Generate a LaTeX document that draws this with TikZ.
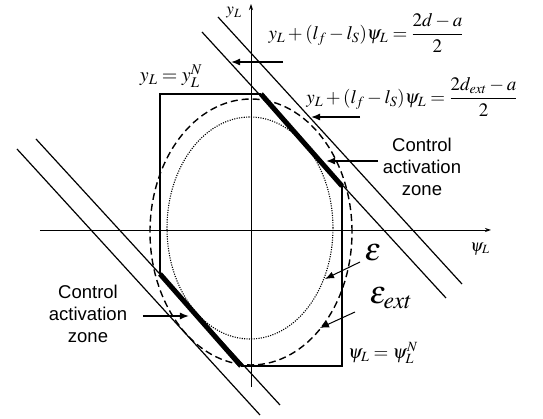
\documentclass[tikz,border=0pt]{standalone}
\usepackage{amsmath}
\usepackage{mathptmx}
\usepackage{fontspec}
\setmainfont{Liberation Serif}
\newfontfamily\arialfont{Liberation Sans}
\usetikzlibrary{arrows.meta}

\begin{document}
\begin{tikzpicture}[x=1pt, y=1pt,
    axis/.style={line width=0.8pt, -{Stealth[length=6pt, width=4pt]}},
    bound/.style={line width=1.4pt},
    border/.style={line width=1.2pt},
    pointer/.style={line width=1.4pt, -{Latex[length=9pt, width=7pt]}},
    zone/.style={font=\arialfont\fontsize{18.5}{22}\selectfont, align=center},
    eqn/.style={font=\fontsize{19}{22}\selectfont, inner sep=0pt},
    setlab/.style={font=\fontsize{32}{32}\selectfont, inner sep=0pt, text height=12pt, text depth=4pt}]
    \useasboundingbox (-251,-189) rectangle (292,230);

    % Axes
    \coordinate (xl) at (-211,0);
    \coordinate (xr) at (240,0);
    \coordinate (yb) at (0,-157);
    \coordinate (yt) at (0,226);
    \draw[axis] (xl) -- (xr);
    \draw[axis] (yb) -- (yt);
    \node[eqn, font=\fontsize{17}{20}\selectfont] (psilab) at (229,-19) {$\psi_L$};
    \node[eqn, font=\fontsize{17}{20}\selectfont] (ylab) at (-17,217) {$y_L$};

    % Ellipses E and E_ext
    \draw[line width=1.1pt, dash pattern=on 1.1pt off 1.3pt] (-1,2) ellipse [x radius=83pt, y radius=111pt];
    \draw[line width=1.4pt, dash pattern=on 7pt off 4pt] (0,-2) ellipse [x radius=101pt, y radius=133pt];

    % Boundary lines
    \draw[border] (-33,213) -- (211,-54);
    \draw[border] (-49,198) -- (195,-68);
    \draw[border] (-215,91) -- (29,-175);
    \draw[border] (-234,81) -- (9,-185);

    % Admissible set
    \coordinate (ta) at (10,136);
    \coordinate (tb) at (-91,136);
    \coordinate (tc) at (-91,-44);
    \coordinate (ba) at (-10,-136);
    \coordinate (bb) at (91,-136);
    \coordinate (bc) at (91,44);
    \draw[bound] (ta) -- (tb) -- (tc);
    \draw[bound] (ba) -- (bb) -- (bc);
    \draw[line width=5pt] (ta) -- (bc);
    \draw[line width=5pt] (ba) -- (tc);

    % Labels
    \node[eqn] (eqd) at (115,197) {$y_L+(l_f-l_S)\psi_L=\dfrac{2d-a}{2}$};
    \node[eqn] (eqext) at (161,133) {$y_L+(l_f-l_S)\psi_L=\dfrac{2d_{ext}-a}{2}$};
    \node[eqn, font=\fontsize{20}{22}\selectfont] (ymax) at (-80,154) {$y_L=y_L^N$};
    \node[eqn] (psimax) at (132,-123) {$\psi_L=\psi_L^N$};
    \node[zone] (zoneR) at (171,63) {Control\\activation\\zone};
    \node[zone] (zoneL) at (-163,-84) {Control\\activation\\zone};
    \node[setlab] (eps) at (122,-27) {$\varepsilon$};
    \node[setlab] (epsext) at (140,-70) {$\varepsilon_{ext}$};

    % Pointers
    \coordinate (eqdA) at (32,168);
    \coordinate (eqdB) at (-20,168);
    \coordinate (eqextA) at (109,113);
    \coordinate (eqextB) at (60,113);
    \coordinate (zoneRA) at (127,69);
    \coordinate (zoneRB) at (75,69);
    \coordinate (zoneLA) at (-108,-86);
    \coordinate (zoneLB) at (-62,-86);
    \coordinate (epsA) at (109,-32);
    \coordinate (epsB) at (74,-49);
    \coordinate (epsextA) at (104,-82);
    \coordinate (epsextB) at (69,-98);
    \draw[pointer] (eqdA) -- (eqdB);
    \draw[pointer] (eqextA) -- (eqextB);
    \draw[pointer] (zoneRA) -- (zoneRB);
    \draw[pointer] (zoneLA) -- (zoneLB);
    \draw[pointer, line width=1pt] (epsA) -- (epsB);
    \draw[pointer, line width=1pt] (epsextA) -- (epsextB);
\end{tikzpicture}
\end{document}
